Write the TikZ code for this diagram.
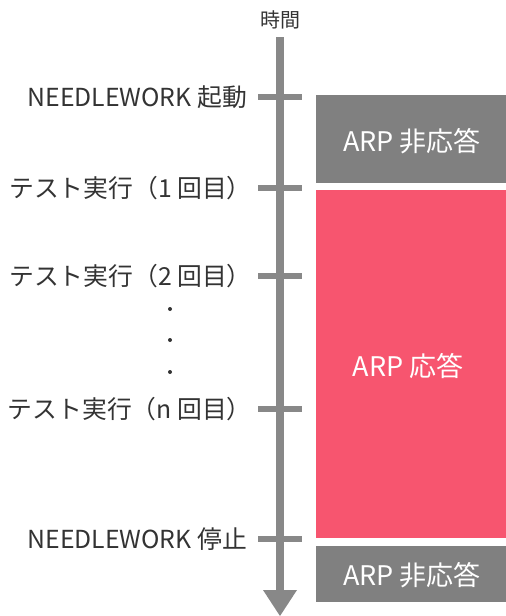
\documentclass[tikz,border=0pt]{standalone}
\usepackage{fontspec}
\setmainfont{Noto Sans CJK JP}
\definecolor{axisgray}{HTML}{888888}
\definecolor{boxgray}{HTML}{808080}
\definecolor{boxred}{HTML}{F7556F}
\definecolor{txt}{HTML}{333333}
\begin{document}
\begin{tikzpicture}[x=1pt,y=-1pt,
  lbl/.style={anchor=east,text=txt,font=\fontsize{24.8}{28}\selectfont,inner sep=0pt},
  tick/.style={axisgray,line width=6pt},
  boxtxt/.style={text=white,font=\fontsize{27}{30}\selectfont,inner sep=0pt}]
\useasboundingbox (0,0) rectangle (506,616);
% axis
\coordinate (top) at (280,37);
\coordinate (base) at (280,590);
\coordinate (tip) at (280,616);
\fill[axisgray] (276,37) rectangle (284,592);
\fill[axisgray] (263,590) -- (297,590) -- (tip) -- cycle;
\node[text=txt,font=\fontsize{20}{22}\selectfont,inner sep=0pt] (time) at (280,20) {時間};
% ticks
\foreach \n/\y in {t1/97,t2/188,t3/276,t4/409,t5/539}{
  \coordinate (\n) at (258,\y);
  \draw[tick] (258,\y) -- (302,\y);
}
% labels
\node[lbl] (l1) at (247,97) {NEEDLEWORK 起動};
\node[lbl] (l2) at (252,188) {テスト実行（1 回目）};
\node[lbl] (l3) at (252,276) {テスト実行（2 回目）};
\node[lbl] (l4) at (252,409) {テスト実行（n 回目）};
\node[lbl] (l5) at (247,539) {NEEDLEWORK 停止};
% dots
\foreach \n/\y in {d1/309,d2/340,d3/372}{
  \fill[txt] (170,\y) circle (2pt);
}
% boxes
\fill[boxgray] (316,95) rectangle (506,183);
\node[boxtxt] (b1) at (412,141) {ARP 非応答};
\fill[boxred] (316,190) rectangle (506,538);
\node[boxtxt] (b2) at (408,366) {ARP 応答};
\fill[boxgray] (316,546) rectangle (506,602);
\node[boxtxt] (b3) at (412,575) {ARP 非応答};
\end{tikzpicture}
\end{document}
